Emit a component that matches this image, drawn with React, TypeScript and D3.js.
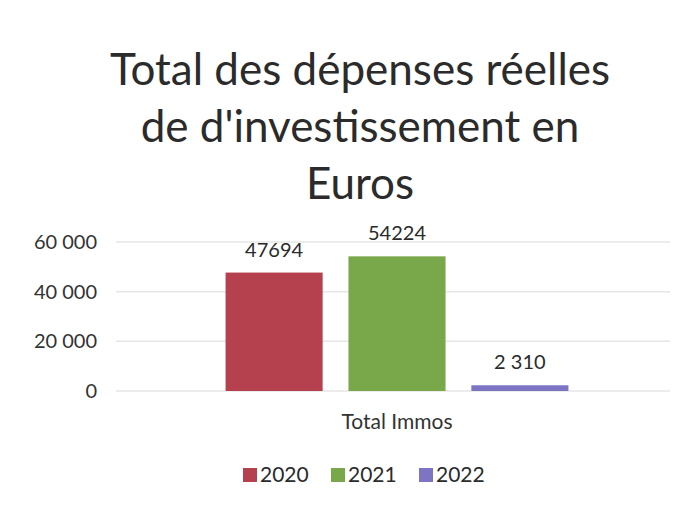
import * as d3 from "d3";

const W = 693,
  H = 509;
const margin = { top: 242, right: 23, bottom: 118, left: 116 };

const titleLines = ["Total des dépenses réelles", "de d'investissement en", "Euros"];
const category = "Total Immos";
const years = ["2020", "2021", "2022"];
const values = [47694, 54224, 2310];
const labels = ["47694", "54224", "2 310"];
const colors = ["#B5404E", "#79A84B", "#7D74C4"];
const yTicks = [0, 20000, 40000, 60000];

const font = "Lato, 'Open Sans', sans-serif";

export default function App() {
  const innerW = W - margin.left - margin.right;
  const innerH = H - margin.top - margin.bottom;

  const y = d3.scaleLinear().domain([0, 60000]).range([margin.top + innerH, margin.top]);
  const x0 = d3
    .scaleBand()
    .domain([category])
    .range([margin.left + 5, margin.left + innerW + 3])
    .paddingInner(0)
    .paddingOuter(0.305);
  const x1 = d3
    .scaleBand()
    .domain(years)
    .range([0, x0.bandwidth()])
    .paddingInner(0.21);

  const fmt = (d: number) => d3.format(",")(d).replace(/,/g, " ");

  return (
    <svg width={W} height={H} style={{ position: "absolute", left: 0, top: 0, background: "#fff" }}>
      {/* title */}
      {titleLines.map((t, i) => (
        <text
          key={t}
          x={360}
          y={85 + i * 57}
          textAnchor="middle"
          fontFamily={font}
          fontSize={44}
          fill="#2b2b2b"
        >
          {t}
        </text>
      ))}

      {/* gridlines + y axis labels */}
      {yTicks.map((t) => (
        <g key={t}>
          <line
            x1={margin.left}
            x2={margin.left + innerW}
            y1={y(t)}
            y2={y(t)}
            stroke="#e6e6e6"
            strokeWidth={1.5}
          />
          <text
            x={97}
            y={y(t)}
            dy="0.35em"
            textAnchor="end"
            fontFamily={font}
            fontSize={20}
            fill="#333"
          >
            {fmt(t)}
          </text>
        </g>
      ))}

      {/* bars */}
      {years.map((yr, i) => {
        const bx = (x0(category) ?? 0) + (x1(yr) ?? 0);
        return (
          <g key={yr}>
            <rect
              x={bx}
              y={y(values[i])}
              width={x1.bandwidth()}
              height={y(0) - y(values[i])}
              fill={colors[i]}
            />
            <text
              x={bx + x1.bandwidth() / 2}
              y={y(values[i]) - 16}
              textAnchor="middle"
              fontFamily={font}
              fontSize={20}
              fill="#2b2b2b"
            >
              {labels[i]}
            </text>
          </g>
        );
      })}

      {/* category label */}
      <text
        x={(x0(category) ?? 0) + x0.bandwidth() / 2}
        y={429}
        textAnchor="middle"
        fontFamily={font}
        fontSize={21}
        fill="#333"
      >
        {category}
      </text>

      {/* legend */}
      {years.map((yr, i) => {
        const lx = 243 + i * 88;
        return (
          <g key={yr}>
            <rect x={lx} y={468} width={14} height={14} fill={colors[i]} />
            <text x={lx + 17} y={482} fontFamily={font} fontSize={21} fill="#2b2b2b">
              {yr}
            </text>
          </g>
        );
      })}
    </svg>
  );
}
